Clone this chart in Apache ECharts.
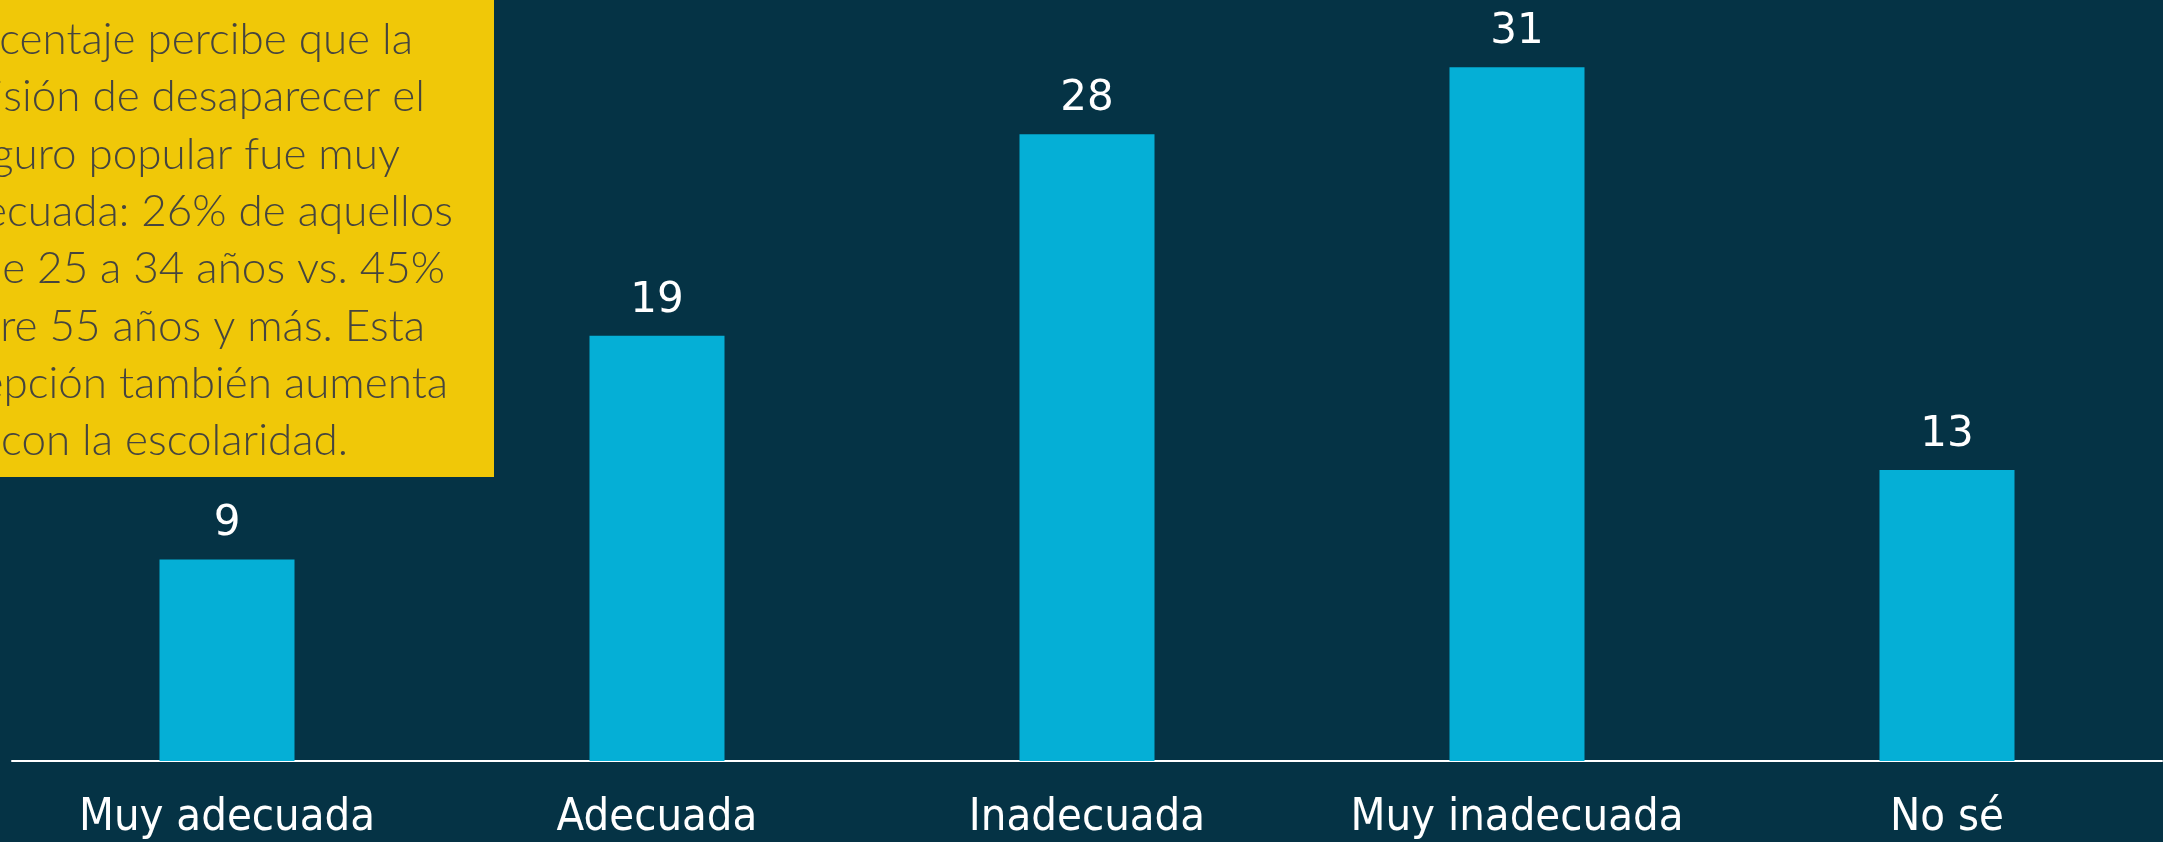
<!DOCTYPE html>
<html>
<head>
<meta charset="utf-8">
<style>
  html, body { margin: 0; padding: 0; background: #053345; }
  #chart { width: 2163px; height: 842px; }
</style>
<script src="https://cdn.jsdelivr.net/npm/echarts@6/dist/echarts.min.js"></script>
</head>
<body>
<div id="chart"></div>
<script>
const categories = ['Muy adecuada', 'Adecuada', 'Inadecuada', 'Muy inadecuada', 'No sé'];
const values = [9, 19, 28, 31, 13];
const noteLines = [
  'porcentaje percibe que la',
  'decisión de desaparecer el',
  'seguro popular fue muy',
  'inadecuada: 26% de aquellos',
  'de 25 a 34 años vs. 45%',
  'entre 55 años y más. Esta',
  'percepción también aumenta',
  'con la escolaridad.'
];
const noteRightEdges = [413, 425, 400, 453, 445, 425, 448, 348];

const chart = echarts.init(document.getElementById('chart'), null, { renderer: 'canvas' });

const noteGraphics = [
  { type: 'rect', left: 0, top: 0, shape: { x: 0, y: 0, width: 494, height: 477 }, style: { fill: '#F0C808' }, z: 10 }
];
noteLines.forEach((t, i) => {
  noteGraphics.push({
    type: 'text', x: noteRightEdges[i], y: 52 + 57.3 * i - 12, z: 11,
    style: { text: t, fill: '#46453F', font: '300 44px Lato', textAlign: 'right', textVerticalAlign: 'middle' }
  });
});

chart.setOption({
  backgroundColor: '#053345',
  animation: false,
  grid: { left: 12, right: 1, top: 0, bottom: 81, containLabel: false },
  xAxis: {
    type: 'category',
    data: categories,
    axisLine: { show: true, lineStyle: { color: '#FFFFFF', width: 2 } },
    axisTick: { show: false },
    axisLabel: {
      interval: 0,
      color: '#FFFFFF', fontStyle: 'condensed',
      fontFamily: "'DejaVu Sans Condensed', 'DejaVu Sans', sans-serif",
      fontSize: 45, lineHeight: 45, margin: 35
    }
  },
  yAxis: {
    type: 'value', min: 0, max: 34,
    show: false, splitLine: { show: false }
  },
  series: [{
    type: 'bar',
    data: values,
    barWidth: '31.4%',
    itemStyle: { color: '#05AFD6' },
    label: {
      show: true, position: 'top', distance: 14,
      color: '#FFFFFF', fontFamily: 'DejaVu Sans', fontSize: 42, lineHeight: 42
    }
  }],
  graphic: noteGraphics
});
</script>
</body>
</html>
